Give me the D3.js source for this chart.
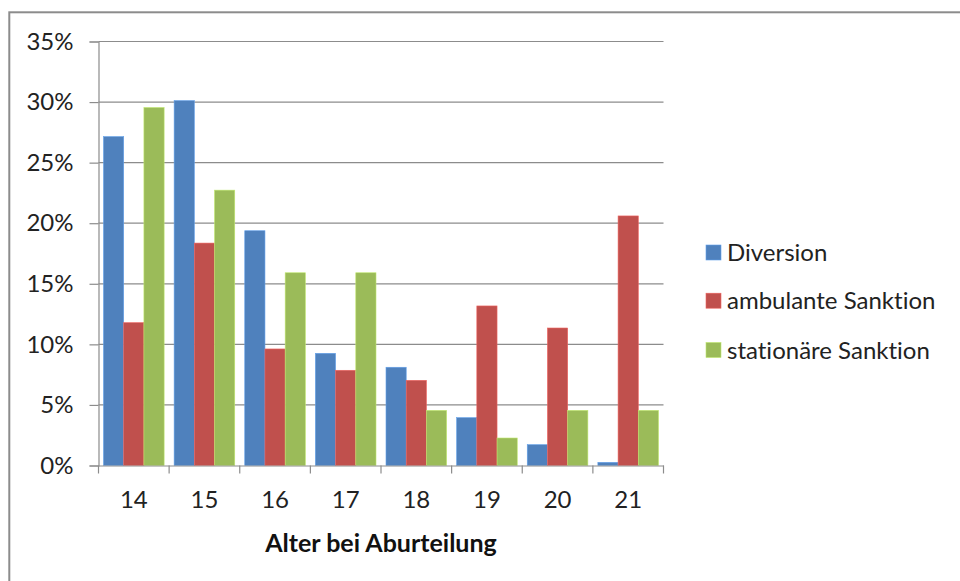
<!DOCTYPE html>
<html><head><meta charset="utf-8">
<script src="https://cdn.jsdelivr.net/npm/d3@7"></script>
<style>
html,body{margin:0;padding:0;background:#fff;}
svg{display:block;font-family:Lato,"Open Sans",sans-serif;font-variant-ligatures:none;}
</style></head>
<body>
<svg id="c" width="960" height="581"></svg>
<script>
const categories = ["14","15","16","17","18","19","20","21"];
const seriesNames = ["Diversion","ambulante Sanktion","stationäre Sanktion"];
const diversion = [27.15, 30.12, 19.38, 9.26, 8.11, 3.95, 1.72, 0.26];
const ambulant = [11.79, 18.36, 9.62, 7.86, 7.03, 13.17, 11.35, 20.6];
const stationaer = [29.55, 22.73, 15.91, 15.91, 4.55, 2.27, 4.55, 4.55];
const yTicks = [0,5,10,15,20,25,30,35];
const colors = ["#4F81BD","#C0504D","#9BBB59"];
const xTitle = "Alter bei Aburteilung";

(function(){
const values = [diversion, ambulant, stationaer];
const svg = d3.select("#c");

// outer frame
svg.append("rect").attr("x",9.3).attr("y",12.3).attr("width",1000).attr("height",700)
  .attr("fill","none").attr("stroke","#8c8c8c").attr("stroke-width",2);

const pL = 98.5, pR = 663.5, pT = 41.5, pB = 465.5;
const x = d3.scaleBand().domain(categories).range([pL, pR]).paddingInner(0).paddingOuter(0);
const xs = d3.scaleBand().domain(d3.range(3)).range([5, x.bandwidth()-5]).padding(0);
const y = d3.scaleLinear().domain([0,35]).range([pB, pT]);

// gridlines
svg.append("g").selectAll("line").data(yTicks.filter(d=>d>0)).join("line")
  .attr("x1",pL).attr("x2",pR).attr("y1",d=>y(d)).attr("y2",d=>y(d))
  .attr("stroke","#8c8c8c").attr("stroke-width",1.2);

// bars
const g = svg.append("g");
categories.forEach((c,i)=>{
  values.forEach((s,k)=>{
    g.append("rect")
      .attr("x", x(c)+xs(k)).attr("width", xs.bandwidth())
      .attr("y", y(s[i])).attr("height", y(0)-y(s[i]))
      .attr("fill", colors[k])
      .attr("stroke", d3.color(colors[k]).brighter(0.6)).attr("stroke-width",0.6);
  });
});

// y axis
const yAxis = d3.axisLeft(y).tickValues(yTicks).tickFormat(d=>d+"%").tickSize(9).tickPadding(16);
const ya = svg.append("g").attr("transform",`translate(${pL},0)`).call(yAxis);
ya.select(".domain").attr("stroke","#8c8c8c").attr("stroke-width",1.2);
ya.selectAll(".tick line").attr("stroke","#8c8c8c").attr("stroke-width",1.2);
ya.selectAll("text").attr("font-size",24).attr("fill","#222").attr("font-family","Lato");

// x axis
const xAxis = d3.axisBottom(x).tickSize(0).tickPadding(25);
const xa = svg.append("g").attr("transform",`translate(0,${pB})`).call(xAxis);
xa.select(".domain").attr("stroke","#8c8c8c").attr("stroke-width",1.2);
xa.selectAll("text").attr("font-size",24).attr("fill","#222").attr("font-family","Lato");
// category boundary ticks
svg.append("g").selectAll("line").data(d3.range(categories.length+1)).join("line")
  .attr("x1",d=>pL+d*x.bandwidth()).attr("x2",d=>pL+d*x.bandwidth())
  .attr("y1",pB).attr("y2",pB+8).attr("stroke","#8c8c8c").attr("stroke-width",1.2);

// x title
svg.append("text").attr("x",381).attr("y",552).attr("text-anchor","middle")
  .attr("font-size",25).attr("font-weight","bold").attr("fill","#111").text(xTitle);

// legend
const lg = svg.append("g");
const lY = [252.5, 300.7, 350];
seriesNames.forEach((n,k)=>{
  lg.append("rect").attr("x",706).attr("y",lY[k]-7.5).attr("width",15).attr("height",15)
    .attr("fill",colors[k]).attr("stroke",d3.color(colors[k]).brighter(0.6)).attr("stroke-width",0.6);
  lg.append("text").attr("x",727).attr("y",lY[k]).attr("dy","0.36em")
    .attr("font-size",24).attr("fill","#222").text(n);
});
})();
</script>
</body></html>
